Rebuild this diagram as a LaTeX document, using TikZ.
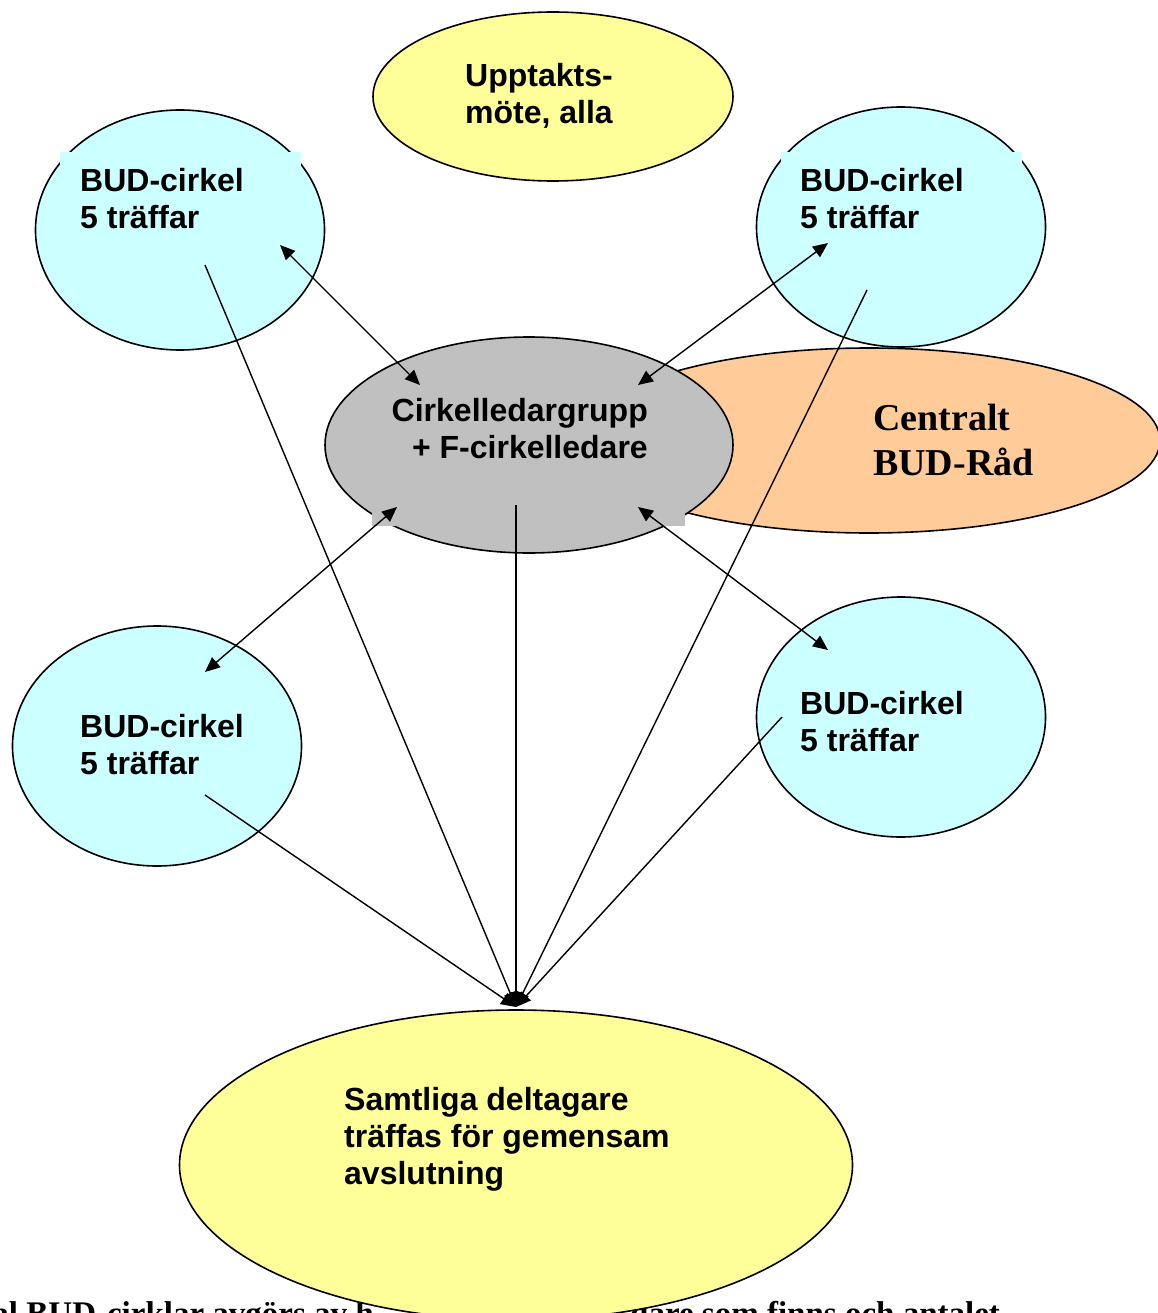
\documentclass[tikz,border=0pt]{standalone}
\usepackage{fontspec}
\setmainfont{Liberation Sans}
\newfontfamily\budserif{Liberation Serif}
\usetikzlibrary{shapes.geometric,arrows.meta}

\definecolor{budcyan}{HTML}{CCFFFF}
\definecolor{budyellow}{HTML}{FFFF99}
\definecolor{budgrey}{HTML}{C0C0C0}
\definecolor{budorange}{HTML}{FFCC99}

\tikzset{
  blob/.style={ellipse, draw, line width=1.6pt, inner sep=0pt},
  circ/.style={blob, fill=budcyan, minimum width=289pt, minimum height=240pt},
  txt/.style={anchor=base west, align=left, inner sep=0pt, font=\fontsize{32}{37}\selectfont\bfseries},
  sertxt/.style={anchor=base west, align=left, inner sep=0pt, font=\fontsize{38}{45}\selectfont\budserif\bfseries},
  note/.style={inner sep=0pt, font=\fontsize{33}{40}\selectfont\budserif\bfseries},
  link/.style={line width=1.4pt, {Triangle[length=15pt,width=13pt]}-{Triangle[length=15pt,width=13pt]}},
  tobot/.style={line width=1.4pt, -{Triangle[length=15pt,width=13pt]}},
}

\begin{document}
\begin{tikzpicture}
    \useasboundingbox (0pt,0pt) rectangle (1157pt,-1313pt);
    \node[note, anchor=base east] (notel) at (374pt,-1324pt) {al BUD-cirklar avgörs av h};
    \node[note, anchor=base west] (noter) at (630pt,-1324pt) {dare som finns och antalet};
    \node[blob, fill=budyellow, minimum width=360pt, minimum height=169pt] (upptakt) at (553pt,-96.5pt) {};
    \node[txt] (upptakttxt) at (465pt,-124pt) {Upptakts-\\möte, alla};
    \node[circ] (cirkel1) at (180pt,-230pt) {};
    \fill[budcyan] (60pt,-152pt) rectangle (301pt,-260pt);
    \node[txt] (cirkel1txt) at (80pt,-228.5pt) {BUD-cirkel\\5 träffar};
    \node[circ] (cirkel2) at (901pt,-227pt) {};
    \fill[budcyan] (781pt,-152pt) rectangle (1022pt,-260pt);
    \node[txt] (cirkel2txt) at (800pt,-228.5pt) {BUD-cirkel\\5 träffar};
    \node[blob, fill=budorange, minimum width=582pt, minimum height=185pt] (rad) at (869pt,-440.5pt) {};
    \node[sertxt] (radtxt) at (873pt,-475pt) {Centralt\\BUD-Råd};
    \node[blob, fill=budgrey, minimum width=408pt, minimum height=216pt] (grupp) at (529pt,-445pt) {};
    \fill[budgrey] (372pt,-400pt) rectangle (685pt,-526pt);
    \node[txt, anchor=base east, align=right] (grupptxt) at (648pt,-458pt) {Cirkelledargrupp\\+ F-cirkelledare};
    \node[circ] (cirkel3) at (157pt,-746pt) {};
    \node[txt] (cirkel3txt) at (80pt,-774.5pt) {BUD-cirkel\\5 träffar};
    \node[circ] (cirkel4) at (901pt,-717pt) {};
    \node[txt] (cirkel4txt) at (800pt,-751.5pt) {BUD-cirkel\\5 träffar};
    \node[blob, fill=budyellow, minimum width=673pt, minimum height=310pt] (avslut) at (516pt,-1165pt) {};
    \node[txt] (avsluttxt) at (344pt,-1184pt) {Samtliga deltagare\\träffas för gemensam\\avslutning};
    \coordinate (c1link) at (280pt,-245pt);
    \coordinate (g1link) at (420pt,-385pt);
    \coordinate (c2link) at (828pt,-243pt);
    \coordinate (g2link) at (638pt,-385pt);
    \coordinate (g3link) at (397pt,-507pt);
    \coordinate (c3link) at (205pt,-672pt);
    \coordinate (g4link) at (638pt,-507pt);
    \coordinate (c4link) at (828pt,-650pt);
    \coordinate (c1out) at (205pt,-265pt);
    \coordinate (c2out) at (867pt,-290pt);
    \coordinate (gout) at (516pt,-505pt);
    \coordinate (c3out) at (205pt,-795pt);
    \coordinate (c4out) at (782pt,-717pt);
    \coordinate (meet) at (516pt,-1007pt);
    \draw[link] (c1link) -- (g1link);
    \draw[link] (c2link) -- (g2link);
    \draw[link] (g3link) -- (c3link);
    \draw[link] (g4link) -- (c4link);
    \draw[tobot] (c1out) -- (meet);
    \draw[tobot] (c2out) -- (meet);
    \draw[tobot] (gout) -- (meet);
    \draw[tobot] (c3out) -- (meet);
    \draw[tobot] (c4out) -- (meet);
\end{tikzpicture}
\end{document}
